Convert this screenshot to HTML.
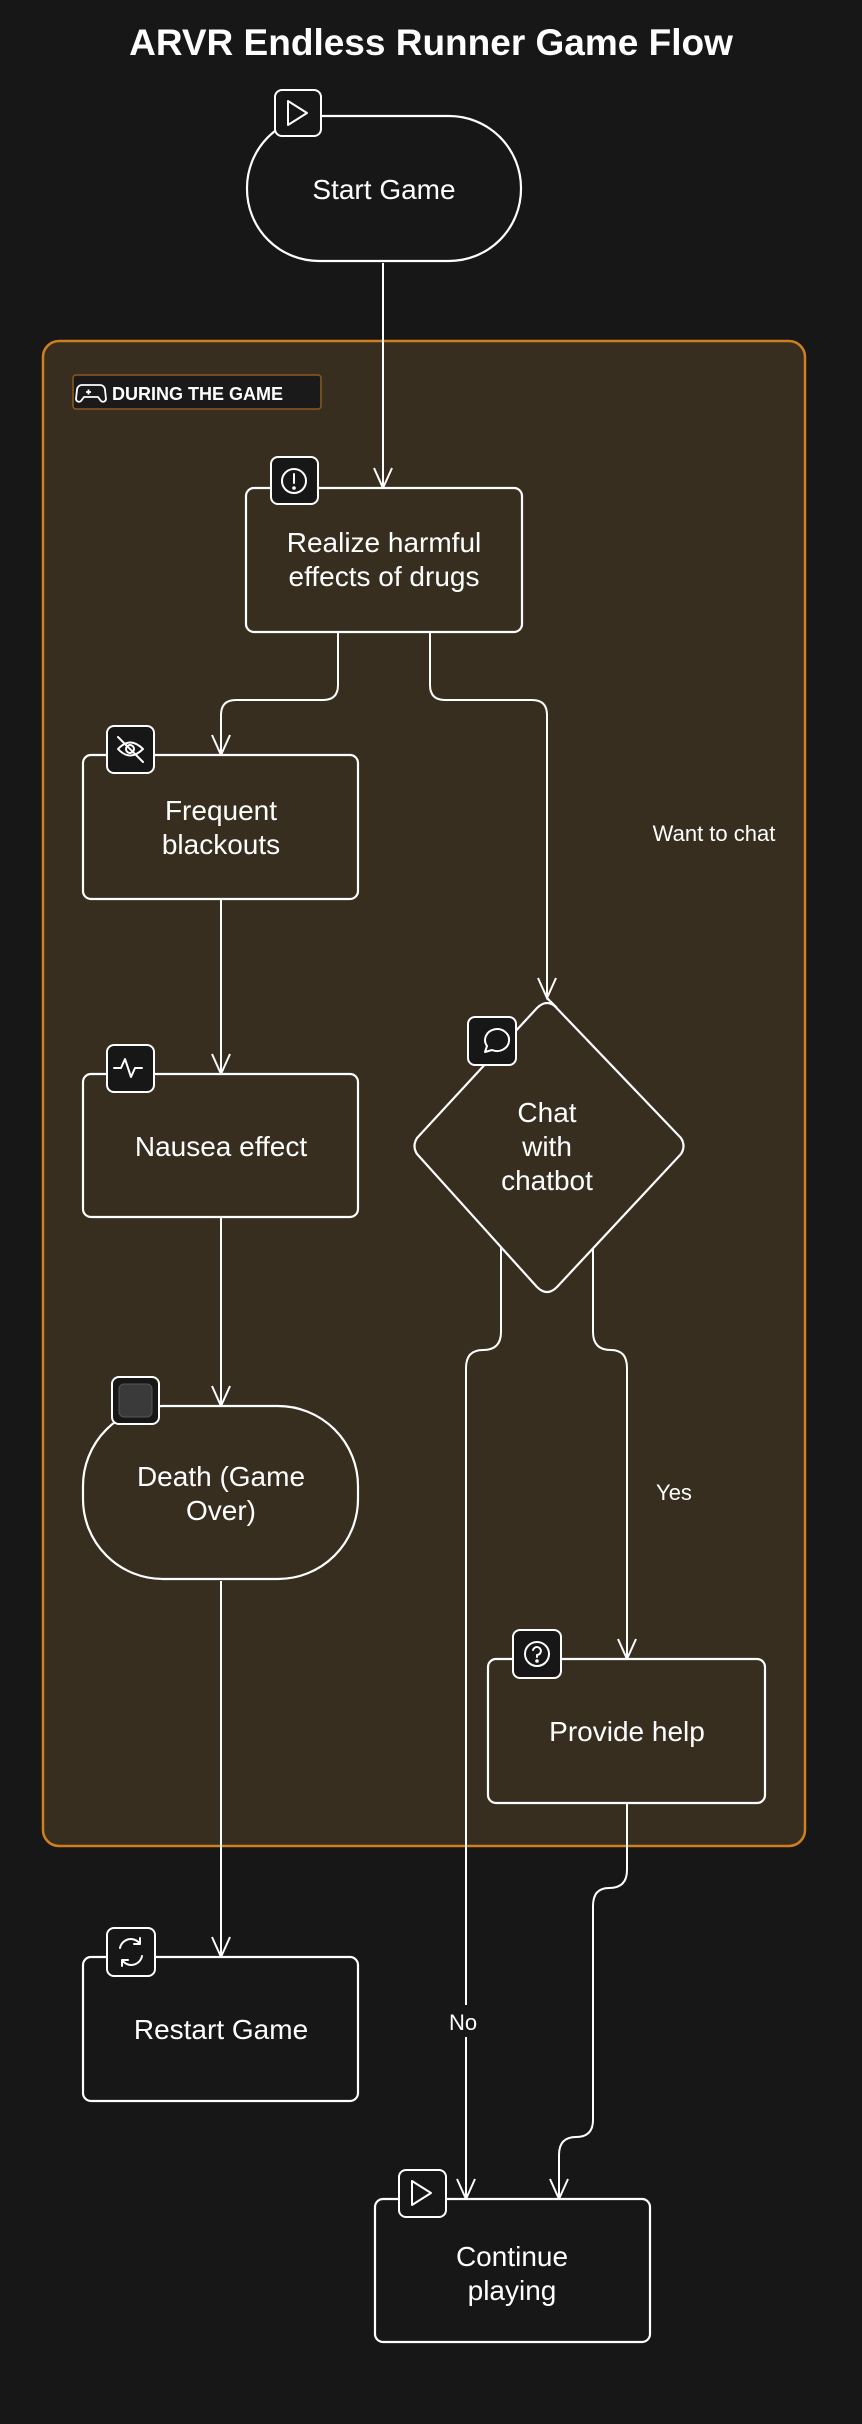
<!DOCTYPE html>
<html><head><meta charset="utf-8"><style>
html,body{margin:0;padding:0;background:#171717;}
svg{display:block}
text{font-family:"Liberation Sans",sans-serif;fill:#fff}
</style></head><body>
<svg width="862" height="2424" viewBox="0 0 862 2424" xmlns="http://www.w3.org/2000/svg">
<defs>
<marker id="ah" viewBox="0 0 20 20" refX="10" refY="19" markerWidth="20" markerHeight="20" markerUnits="userSpaceOnUse" orient="auto-start-reverse">
</marker>
</defs>
<rect width="862" height="2424" fill="#171717"/>
<text x="431" y="55" font-size="37" font-weight="bold" text-anchor="middle">ARVR Endless Runner Game Flow</text>

<!-- group -->
<rect x="43" y="341" width="762" height="1505" rx="16" fill="#372e20" stroke="#d07f1f" stroke-width="2.5"/>
<rect x="73" y="375" width="248" height="34" rx="3" fill="#1a1a1a" stroke="#8a5a1c" stroke-width="1.5"/>
<g fill="none" stroke="#fff" stroke-width="1.8">
<path d="M82 385 h18 a5 5 0 0 1 5 5 l1 9 a3 3 0 0 1 -5 2 l-3 -4 h-14 l-3 4 a3 3 0 0 1 -5 -2 l1 -9 a5 5 0 0 1 5 -5z"/>
<path d="M86 392 h5 M88.5 389.5 v5"/>
</g>
<text x="112" y="400" font-size="18" font-weight="bold">DURING THE GAME</text>

<g fill="none" stroke="#fff" stroke-width="2">
<!-- connectors -->
<path d="M383 263 V488"/>
<path d="M338 632 V685 Q338 700 323 700 H236 Q221 700 221 715 V755"/>
<path d="M430 632 V685 Q430 700 445 700 H532 Q547 700 547 715 V998"/>
<path d="M221 899 V1074"/>
<path d="M221 1217 V1406"/>
<path d="M221 1581 V1957"/>
<path d="M501 1240 V1332 Q501 1350 483 1350 Q466 1350 466 1368 V2199"/>
<path d="M593 1240 V1332 Q593 1350 611 1350 Q627 1350 627 1368 V1659"/>
<path d="M627 1803 V1870 Q627 1888 609 1888 Q593 1888 593 1906 V2120 Q593 2137 576 2137 Q559 2137 559 2155 V2199"/>
<!-- arrowheads -->
<path d="M374 468 L383 488 L392 468"/>
<path d="M212 735 L221 755 L230 735"/>
<path d="M538 978 L547 998 L556 978"/>
<path d="M212 1054 L221 1074 L230 1054"/>
<path d="M212 1386 L221 1406 L230 1386"/>
<path d="M212 1937 L221 1957 L230 1937"/>
<path d="M457 2179 L466 2199 L475 2179"/>
<path d="M618 1639 L627 1659 L636 1639"/>
<path d="M550 2179 L559 2199 L568 2179"/>
</g>

<!-- nodes -->
<g stroke="#fff" stroke-width="2.2">
<rect x="247" y="116" width="274" height="145" rx="72" fill="#171717"/>
<rect x="246" y="488" width="276" height="144" rx="8" fill="#372e20"/>
<rect x="83" y="755" width="275" height="144" rx="8" fill="#372e20"/>
<rect x="83" y="1074" width="275" height="143" rx="8" fill="#372e20"/>
<rect x="83" y="1406" width="275" height="173" rx="80" fill="#372e20"/>
<path d="M547 998 L681 1138 Q686 1146 681 1154 L557 1287 Q547 1297 537 1287 L417 1154 Q412 1146 417 1138 L537 1008 Q547 998 557 1008 Z" fill="#372e20"/>
<rect x="488" y="1659" width="277" height="144" rx="8" fill="#372e20"/>
<rect x="83" y="1957" width="275" height="144" rx="8" fill="#171717"/>
<rect x="375" y="2199" width="275" height="143" rx="8" fill="#171717"/>
</g>

<!-- edge labels -->
<text x="714" y="841" font-size="22" text-anchor="middle">Want to chat</text>
<text x="674" y="1500" font-size="22" text-anchor="middle">Yes</text>
<rect x="448" y="2005" width="30" height="32" fill="#171717"/>
<text x="463" y="2030" font-size="22" text-anchor="middle">No</text>

<!-- node text -->
<g font-size="28" text-anchor="middle">
<text x="384" y="199">Start Game</text>
<text x="384" y="552">Realize harmful</text>
<text x="384" y="586">effects of drugs</text>
<text x="221" y="820">Frequent</text>
<text x="221" y="854">blackouts</text>
<text x="221" y="1156">Nausea effect</text>
<text x="221" y="1486">Death (Game</text>
<text x="221" y="1520">Over)</text>
<text x="547" y="1122">Chat</text>
<text x="547" y="1156">with</text>
<text x="547" y="1190">chatbot</text>
<text x="627" y="1741">Provide help</text>
<text x="221" y="2039">Restart Game</text>
<text x="512" y="2266">Continue</text>
<text x="512" y="2300">playing</text>
</g>

<!-- icons -->
<g stroke="#fff" stroke-width="2" fill="#171717">
<rect x="275" y="90" width="46" height="46" rx="7"/>
<rect x="271" y="457" width="47" height="47" rx="7"/>
<rect x="107" y="726" width="47" height="47" rx="7"/>
<rect x="107" y="1045" width="47" height="47" rx="7"/>
<rect x="112" y="1377" width="47" height="47" rx="7"/>
<rect x="468" y="1017" width="48" height="48" rx="7"/>
<rect x="513" y="1630" width="48" height="48" rx="7"/>
<rect x="107" y="1928" width="48" height="48" rx="7"/>
<rect x="399" y="2170" width="47" height="47" rx="7"/>
</g>
<g stroke="#fff" stroke-width="2" fill="none" stroke-linejoin="round" stroke-linecap="round">
<path d="M288 101 V125 L307 113 Z"/>
<circle cx="294" cy="481" r="12"/><path d="M294 474 V483"/><circle cx="294" cy="488" r="0.8" fill="#fff"/>
<path d="M118 749 Q130 736 143 749 Q130 762 118 749 Z"/><circle cx="130" cy="749" r="4"/><path d="M118 737 L143 762"/>
<path d="M114 1068 h7 l4 -9 l6 18 l4 -9 h7"/>
<path d="M412 2181 V2205 L431 2193 Z"/>
<path d="M485 1052 l2 -6 a12 11 0 1 1 5 4 z"/>
<circle cx="537" cy="1654" r="12"/><path d="M533 1650 a4 4 0 1 1 4 5 v2"/><circle cx="537" cy="1661" r="0.8" fill="#fff"/>
<path d="M120 1948 a11 11 0 0 1 20 -4 M140 1938 v6 h-6 M142 1956 a11 11 0 0 1 -20 4 M122 1966 v-6 h6"/>
</g>
<rect x="119" y="1384" width="33" height="33" rx="5" fill="#3a3a3a" stroke="#555" stroke-width="1"/>
</svg>
</body></html>
